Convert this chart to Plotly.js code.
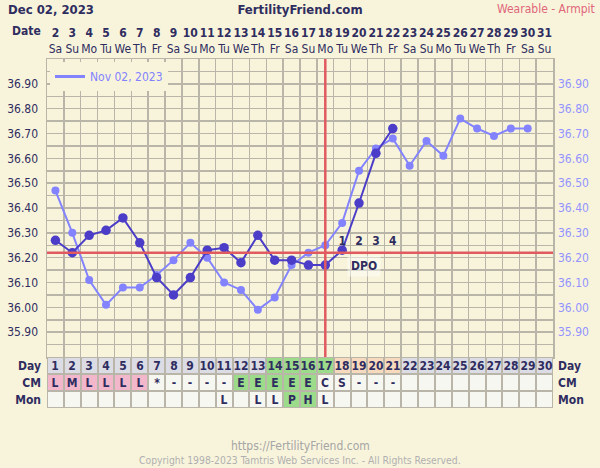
<!DOCTYPE html>
<html>
<head>
<meta charset="utf-8">
<script src="https://cdn.plot.ly/plotly-3.0.1.min.js"></script>
<style>
  html, body { margin: 0; padding: 0; background: #f8f4dc; }
  #chart { width: 600px; height: 468px; }
</style>
</head>
<body>
<div id="chart"></div>
<script>
// ---------------- data ----------------
const cycleDays = [1,2,3,4,5,6,7,8,9,10,11,12,13,14,15,16,17,18,19,20,21,22,23,24,25,26,27,28,29,30];
const dates = [2,3,4,5,6,7,8,9,10,11,12,13,14,15,16,17,18,19,20,21,22,23,24,25,26,27,28,29,30,31];
const weekdays = ['Sa','Su','Mo','Tu','We','Th','Fr','Sa','Su','Mo','Tu','We','Th','Fr','Sa','Su','Mo','Tu','We','Th','Fr','Sa','Su','Mo','Tu','We','Th','Fr','Sa','Su'];

const currentDays  = [1,2,3,4,5,6,7,8,9,10,11,12,13,14,15,16,17,18,19,20,21];
const currentTemps = [36.27,36.22,36.29,36.31,36.36,36.26,36.12,36.05,36.12,36.23,36.24,36.18,36.29,36.19,36.19,36.17,36.17,36.23,36.42,36.62,36.72];

const overlayLabel = 'Nov 02, 2023';
const overlayDays  = [1,2,3,4,5,6,7,8,9,10,11,12,13,14,15,16,17,18,19,20,21,22,23,24,25,26,27,28,29];
const overlayTemps = [36.47,36.30,36.11,36.01,36.08,36.08,36.13,36.19,36.26,36.20,36.10,36.07,35.99,36.04,36.17,36.22,36.25,36.34,36.55,36.64,36.68,36.57,36.67,36.61,36.76,36.72,36.69,36.72,36.72];

const tempTicks = [35.9,36.0,36.1,36.2,36.3,36.4,36.5,36.6,36.7,36.8,36.9];
const coverline = 36.22;
const ovulationDay = 17;
const dpoDays = [18,19,20,21];
const dpoLabels = ['1','2','3','4'];
const fertileDays = [14,15,16,17];

const cmValues  = ['L','M','L','L','L','L','*','-','-','-','-','E','E','E','E','E','C','S','-','-','-','','','','','','','','',''];
const monValues = ['','','','','','','','','','','L','','L','L','P','H','L','','','','','','','','','','','','',''];
const rowLabels = ['Mon','CM','Day'];

const headerDate = 'Dec 02, 2023';
const siteName = 'FertilityFriend.com';
const methodText = 'Wearable - Armpit';
const footerUrl = 'https://FertilityFriend.com';
const footerCopy = 'Copyright 1998-2023 Tamtris Web Services Inc. - All Rights Reserved.';

// ---------------- styling ----------------
const FONT = 'DejaVu Sans Condensed, DejaVu Sans, sans-serif';
const NAVY = '#2f2d60';
const BG = '#f8f4dc';
const GRID = '#b9b5a8';
const DARK = '#4b3dc8';
const LIGHT = '#8383ff';
const RED = '#e05a60';

// plot area in px: left 47, right 553, top 59, bottom 408
const L = 47, R = 553, T = 59, B = 408;
const px2x = p => (p - L) / (R - L);
const px2y = p => (B - p) / (B - T);
const tableFrac = 51 / (B - T);

// table cell categories
const dayCode = d => fertileDays.includes(d) ? 2 : (dpoDays.includes(d) ? 3 : 1);
const cmCode = v => (v === 'L' || v === 'M') ? 4 : (v === 'E' ? 2 : 0);
const monCode = v => (v === 'P' || v === 'H') ? 2 : 0;

const zTable = [
  monValues.map(monCode),
  cmValues.map(cmCode),
  cycleDays.map(dayCode)
];
const tTable = [
  monValues,
  cmValues,
  cycleDays.map(String)
];
const cWhite = '#f7f7f1', cGray = '#dcdce5', cGreen = '#9bdb8a', cPeach = '#f7d9bd', cPink = '#f2b7cb';
const tableScale = [
  [0, cWhite],[0.125, cWhite],
  [0.125, cGray],[0.375, cGray],
  [0.375, cGreen],[0.625, cGreen],
  [0.625, cPeach],[0.875, cPeach],
  [0.875, cPink],[1, cPink]
];

const traces = [
  {
    x: overlayDays, y: overlayTemps, xaxis: 'x', yaxis: 'y',
    mode: 'lines+markers', showlegend: false, hoverinfo: 'skip',
    line: {color: LIGHT, width: 2}, marker: {color: LIGHT, size: 8}
  },
  {
    x: [null], y: [null], xaxis: 'x', yaxis: 'y',
    name: overlayLabel, mode: 'lines', showlegend: true, hoverinfo: 'skip',
    line: {color: LIGHT, width: 3}
  },
  {
    x: currentDays, y: currentTemps, xaxis: 'x', yaxis: 'y',
    mode: 'lines+markers', showlegend: false, hoverinfo: 'skip',
    line: {color: DARK, width: 2}, marker: {color: DARK, size: 9.5}
  },
  {
    x: dpoDays, y: dpoDays.map(() => coverline + 0.045), xaxis: 'x', yaxis: 'y',
    mode: 'text', text: dpoLabels, texttemplate: '<b>%{text}</b>',
    textfont: {family: FONT, size: 12, color: NAVY}, showlegend: false, hoverinfo: 'skip'
  },
  // top date axis / right temperature axis carrier
  {
    x: [cycleDays[0]], y: [null], xaxis: 'x2', yaxis: 'y2',
    mode: 'markers', showlegend: false, hoverinfo: 'skip'
  },
  // table
  {
    type: 'heatmap', x: cycleDays, y: [0,1,2], z: zTable, text: tTable,
    texttemplate: '<b>%{text}</b>', textfont: {family: FONT, size: 12, color: NAVY},
    xaxis: 'x3', yaxis: 'y3', zmin: 0, zmax: 4, colorscale: tableScale,
    showscale: false, xgap: 2, ygap: 2, hoverinfo: 'skip'
  },
  {
    x: [cycleDays[0]], y: [null], xaxis: 'x3', yaxis: 'y4',
    mode: 'markers', showlegend: false, hoverinfo: 'skip'
  }
];

const tickText = tempTicks.map(v => v.toFixed(2));

const layout = {
  width: 600, height: 468,
  paper_bgcolor: BG, plot_bgcolor: BG,
  margin: {l: L, r: 600 - R, t: T, b: 468 - B, pad: 0},
  font: {family: FONT, size: 12, color: NAVY},
  showlegend: true,
  legend: {
    x: px2x(50), y: px2y(62), xanchor: 'left', yanchor: 'top',
    bgcolor: BG, font: {family: FONT, size: 12, color: LIGHT},
    itemwidth: 30, borderwidth: 0
  },
  title: {
    text: '<b>' + siteName + '</b>', x: 0.5, xanchor: 'center',
    y: 1 - 9 / 468, yanchor: 'middle', yref: 'container',
    font: {family: FONT, size: 13, color: NAVY}
  },
  xaxis: {
    domain: [0, 1], anchor: 'y', range: [0.5, 30.5],
    tick0: 0.5, dtick: 1, showticklabels: false, ticks: '',
    showgrid: true, gridcolor: GRID, gridwidth: 1.5, zeroline: false,
    showline: true, linecolor: GRID, linewidth: 1.5, mirror: true
  },
  xaxis2: {
    overlaying: 'x', side: 'top', anchor: 'y', range: [0.5, 30.5],
    tickmode: 'array', tickvals: cycleDays,
    ticktext: cycleDays.map((d, i) => '<b>' + dates[i] + '</b><br>' + weekdays[i]),
    tickfont: {family: FONT, size: 12, color: NAVY},
    tickangle: 0, automargin: false,
    ticks: '', ticklabelstandoff: 3,
    showgrid: false, zeroline: false, showline: false
  },
  yaxis: {
    domain: [tableFrac, 1], anchor: 'x', range: [35.8, 37.0],
    tickmode: 'array', tickvals: tempTicks, ticktext: tickText,
    tickfont: {family: FONT, size: 12, color: NAVY},
    ticks: '', ticklabelstandoff: 5,
    showgrid: true, gridcolor: GRID, gridwidth: 1.5, zeroline: false,
    minor: {tick0: 35.8, dtick: 0.05, showgrid: true, gridcolor: GRID, gridwidth: 1.5, ticks: ''},
    showline: true, linecolor: GRID, linewidth: 1.5, mirror: true
  },
  yaxis2: {
    overlaying: 'y', side: 'right', anchor: 'x', range: [35.8, 37.0],
    tickmode: 'array', tickvals: tempTicks, ticktext: tickText,
    tickfont: {family: FONT, size: 12, color: '#9393ff'},
    ticks: '', ticklabelstandoff: 4,
    showgrid: false, zeroline: false, showline: false
  },
  xaxis3: {
    domain: [0, 1], anchor: 'y3', range: [0.5, 30.5],
    showticklabels: false, ticks: '', showgrid: false, zeroline: false, showline: false
  },
  yaxis3: {
    domain: [0, tableFrac], anchor: 'x3', range: [-0.5, 2.5],
    tickmode: 'array', tickvals: [0,1,2], ticktext: rowLabels.map(s => '<b>' + s + '</b>'),
    tickfont: {family: FONT, size: 12, color: NAVY},
    ticks: '', ticklabelstandoff: 5,
    showgrid: false, zeroline: false, showline: false
  },
  yaxis4: {
    overlaying: 'y3', side: 'right', anchor: 'x3', range: [-0.5, 2.5],
    tickmode: 'array', tickvals: [0,1,2], ticktext: rowLabels.map(s => '<b>' + s + '</b>'),
    tickfont: {family: FONT, size: 12, color: NAVY},
    ticks: '', ticklabelstandoff: 4,
    showgrid: false, zeroline: false, showline: false
  },
  shapes: [
    {type: 'rect', xref: 'x3 domain', yref: 'y3 domain', x0: 0, x1: 1, y0: 0, y1: 1,
     fillcolor: GRID, line: {width: 0}, layer: 'below'},
    {type: 'line', xref: 'x', yref: 'y', x0: 0.5, x1: 30.5, y0: coverline, y1: coverline,
     line: {color: RED, width: 2.5}, layer: 'above'},
    {type: 'line', xref: 'x', yref: 'y', x0: ovulationDay, x1: ovulationDay, y0: 35.8, y1: 37.0,
     line: {color: RED, width: 2.5}, layer: 'above'}
  ],
  annotations: [
    {text: '<b>' + headerDate + '</b>', xref: 'paper', yref: 'paper',
     x: px2x(6), y: px2y(9), xanchor: 'left', yanchor: 'middle', showarrow: false,
     font: {family: FONT, size: 13, color: NAVY}},
    {text: methodText, xref: 'paper', yref: 'paper',
     x: px2x(597), y: px2y(9), xanchor: 'right', yanchor: 'middle', showarrow: false,
     font: {family: FONT, size: 12, color: '#e0667a'}},
    {text: '<b>Date</b>', xref: 'paper', yref: 'paper',
     x: px2x(43), y: px2y(31), xanchor: 'right', yanchor: 'middle', showarrow: false,
     font: {family: FONT, size: 12, color: NAVY}},
    {text: '<b>DPO</b>', xref: 'x', yref: 'y',
     x: 19.3, y: 36.165, xanchor: 'center', yanchor: 'middle', showarrow: false,
     bgcolor: 'rgba(255,255,250,0.45)', borderpad: 3,
     font: {family: FONT, size: 12, color: NAVY}},
    {text: footerUrl, xref: 'paper', yref: 'paper',
     x: 0.5, y: px2y(446), xanchor: 'center', yanchor: 'middle', showarrow: false,
     font: {family: FONT, size: 12, color: '#a5a5a5'}},
    {text: footerCopy, xref: 'paper', yref: 'paper',
     x: 0.5, y: px2y(460), xanchor: 'center', yanchor: 'middle', showarrow: false,
     font: {family: FONT, size: 10.3, color: '#b0b0b0'}}
  ]
};

Plotly.newPlot('chart', traces, layout, {staticPlot: true, displayModeBar: false});
</script>
</body>
</html>
